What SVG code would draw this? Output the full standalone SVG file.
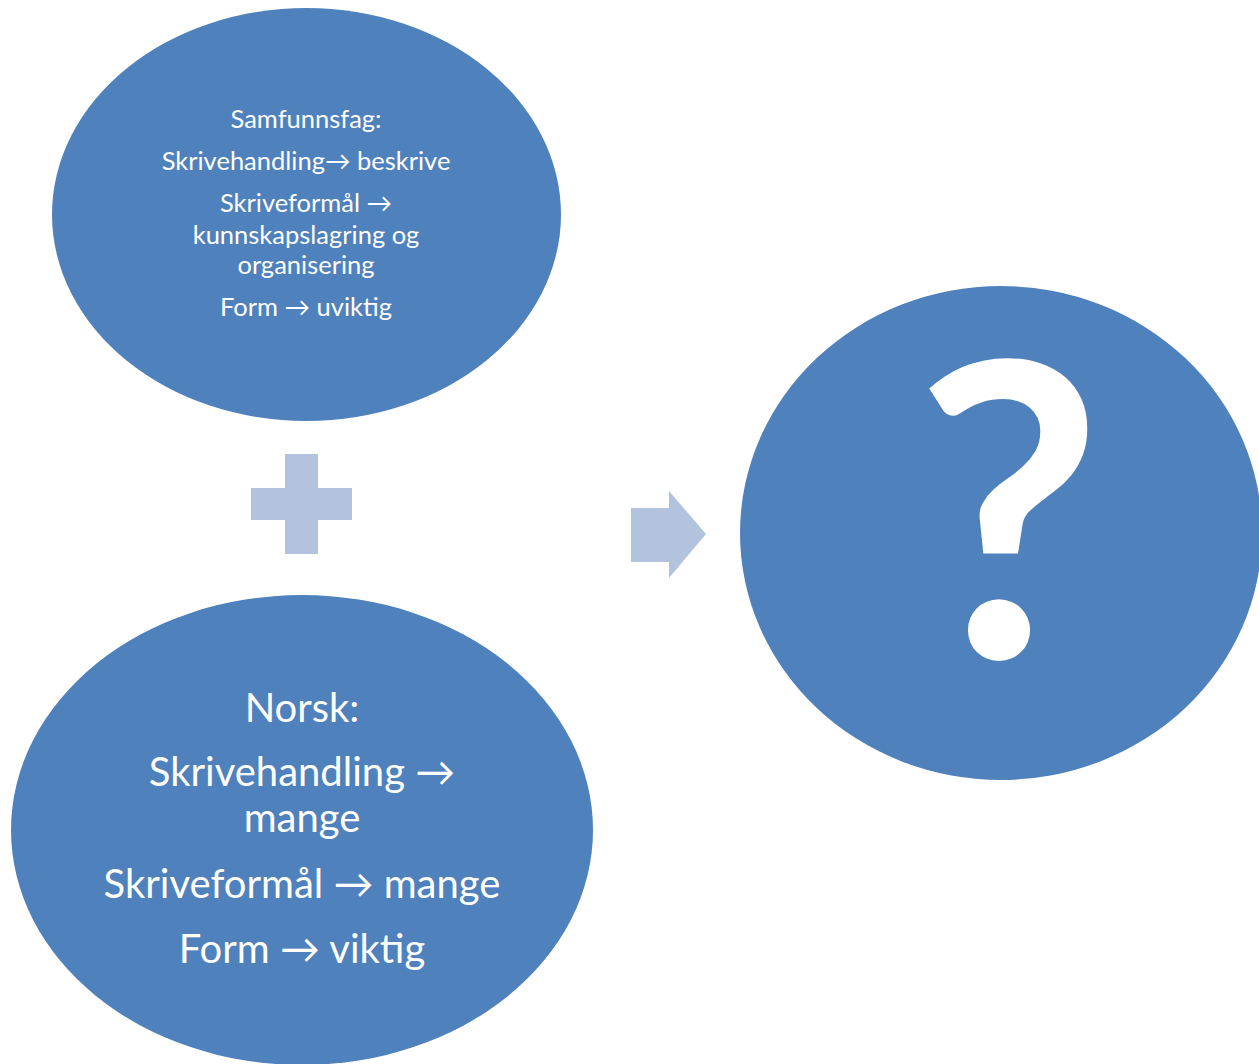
<svg xmlns="http://www.w3.org/2000/svg" width="1259" height="1064" viewBox="0 0 1259 1064">
<style>
.node{fill:#4F81BD;}
.sym{fill:#B3C3DE;}
.t{fill:#FFFFFF;font-family:Lato,"Open Sans","Liberation Sans",sans-serif;text-anchor:middle;}
.s{font-size:25.5px;}
.l{font-size:40px;}
</style>
<rect width="1259" height="1064" fill="#FFFFFF"/>
<g id="connectors">
<path class="sym" d="M285,454 H318 V488 H352 V520 H318 V554 H285 V520 H251 V488 H285 Z"/>
<path class="sym" d="M631,508 H669 V491 L706,534 L669,578 V562 H631 Z"/>
</g>
<g id="samfunnsfag">
<ellipse class="node" cx="306.5" cy="214.5" rx="254.5" ry="206.5"/>
<text class="t s" x="306" y="128">Samfunnsfag:</text>
<text class="t s" x="306" y="170">Skrivehandling→ beskrive</text>
<text class="t s" x="306" y="212">Skriveformål →</text>
<text class="t s" x="306" y="244">kunnskapslagring og</text>
<text class="t s" x="306" y="274">organisering</text>
<text class="t s" x="306" y="316">Form → uviktig</text>
</g>
<g id="norsk">
<ellipse class="node" cx="302" cy="830" rx="291" ry="235"/>
<text class="t l" x="302" y="722">Norsk:</text>
<text class="t l" x="302" y="786">Skrivehandling →</text>
<text class="t l" x="302" y="832">mange</text>
<text class="t l" x="302" y="898">Skriveformål → mange</text>
<text class="t l" x="302" y="963">Form → viktig</text>
</g>
<g id="resultat">
<ellipse class="node" cx="1001" cy="533" rx="261" ry="247"/>
<text class="t" x="1009" y="658" font-size="410" font-weight="bold">?</text>
</g>
</svg>
